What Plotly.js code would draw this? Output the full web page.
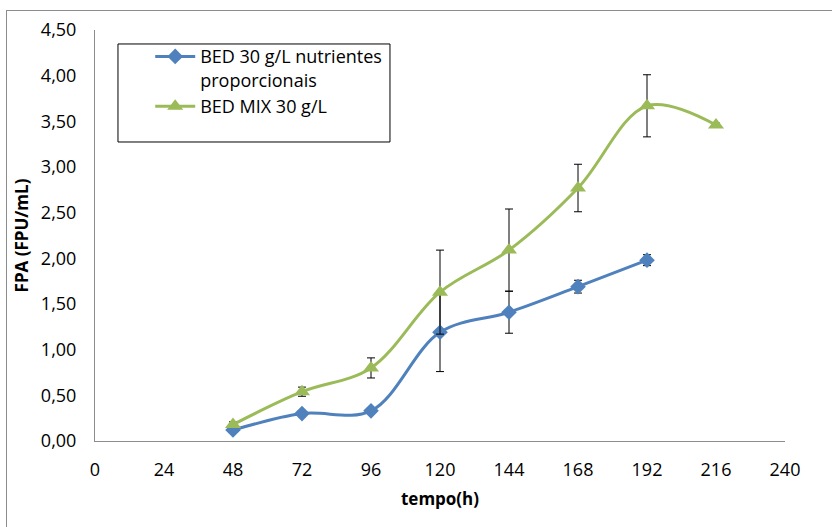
<!DOCTYPE html>
<html>
<head>
<meta charset="utf-8">
<script src="https://cdn.plot.ly/plotly-3.0.1.min.js"></script>
<style>
  html, body { margin: 0; padding: 0; background: #fff; }
  #wrap { position: relative; width: 832px; height: 527px; overflow: hidden; }
  #chart { width: 832px; height: 527px; }
  /* chart-area frame: top and left edges */
  #frame { position: absolute; left: 6px; top: 10px; width: 900px; height: 600px;
           border-left: 1px solid #8c8c8c; border-top: 1px solid #8c8c8c; pointer-events: none; }
</style>
</head>
<body>
<div id="wrap">
  <div id="chart"></div>
  <div id="frame"></div>
</div>
<script>
// Sampling times (h)
const tempoBED = [48, 72, 96, 120, 144, 168, 192];
const tempoMIX = [48, 72, 96, 120, 144, 168, 192, 216];

// FPA activity (FPU/mL) and standard deviations
const fpaBED = [0.12, 0.30, 0.33, 1.19, 1.41, 1.69, 1.98];
const sdBED  = [0.01, 0.01, 0.01, 0.43, 0.23, 0.07, 0.06];

const fpaMIX = [0.18, 0.54, 0.80, 1.63, 2.09, 2.77, 3.67, 3.46];
const sdMIX  = [0.03, 0.05, 0.11, 0.46, 0.45, 0.26, 0.34, 0.02];

const nomeBED = "BED 30 g/L nutrientes<br>proporcionais";
const nomeMIX = "BED MIX 30 g/L";

const xTicks = [0, 24, 48, 72, 96, 120, 144, 168, 192, 216, 240];
const yTicks = [0, 0.5, 1, 1.5, 2, 2.5, 3, 3.5, 4, 4.5];
const yTickText = yTicks.map(v => v.toFixed(2).replace('.', ','));

const FONT = '"Open Sans", "Noto Sans", sans-serif';

const traces = [
  {
    x: tempoBED, y: fpaBED, name: nomeBED, type: 'scatter', mode: 'lines+markers',
    line: { color: '#4F81BD', width: 3, shape: 'spline', smoothing: 1 },
    marker: { symbol: 'diamond', size: 12, color: '#4F81BD' },
    error_y: { type: 'data', array: sdBED, visible: true, color: '#000', thickness: 1, width: 4 }
  },
  {
    x: tempoMIX, y: fpaMIX, name: nomeMIX, type: 'scatter', mode: 'lines+markers',
    line: { color: '#9BBB59', width: 3, shape: 'spline', smoothing: 1 },
    marker: { symbol: 'triangle-up', size: 14, color: '#9BBB59' },
    error_y: { type: 'data', array: sdMIX, visible: true, color: '#000', thickness: 1, width: 4 }
  }
];

const layout = {
  width: 832, height: 527,
  margin: { l: 95, r: 47, t: 30, b: 86 },
  paper_bgcolor: '#fff', plot_bgcolor: '#fff',
  font: { family: FONT, size: 18, color: '#000' },
  showlegend: true,
  legend: {
    x: 0.08, y: 0.98, xanchor: 'left', yanchor: 'top',
    bgcolor: 'rgba(0,0,0,0)', borderwidth: 0,
    valign: 'top', tracegroupgap: 0, itemwidth: 40,
    font: { family: FONT, size: 18, color: '#000' }
  },
  shapes: [
    { type: 'rect', xref: 'paper', yref: 'paper',
      x0: 0.0333, x1: 0.4275, y0: 0.7275, y1: 0.966,
      line: { color: '#000', width: 1 }, fillcolor: 'rgba(0,0,0,0)' }
  ],
  xaxis: {
    range: [0, 240], tickvals: xTicks, ticktext: xTicks.map(String),
    showgrid: false, zeroline: false,
    showline: true, linecolor: '#8c8c8c', linewidth: 1,
    ticks: 'outside', ticklen: 12, tickcolor: 'rgba(0,0,0,0)',
    tickfont: { family: FONT, size: 18 },
    title: { text: '<b>tempo(h)</b>', font: { family: FONT, size: 17 }, standoff: 13 }
  },
  yaxis: {
    range: [0, 4.5], tickvals: yTicks, ticktext: yTickText,
    showgrid: false, zeroline: false,
    showline: true, linecolor: '#8c8c8c', linewidth: 1,
    ticks: 'outside', ticklen: 14, tickcolor: 'rgba(0,0,0,0)',
    tickfont: { family: FONT, size: 18 },
    title: { text: '<b>FPA (FPU/mL)</b>', font: { family: FONT, size: 17 }, standoff: 7 }
  }
};

Plotly.newPlot('chart', traces, layout, { displayModeBar: false, staticPlot: true });
</script>
</body>
</html>
